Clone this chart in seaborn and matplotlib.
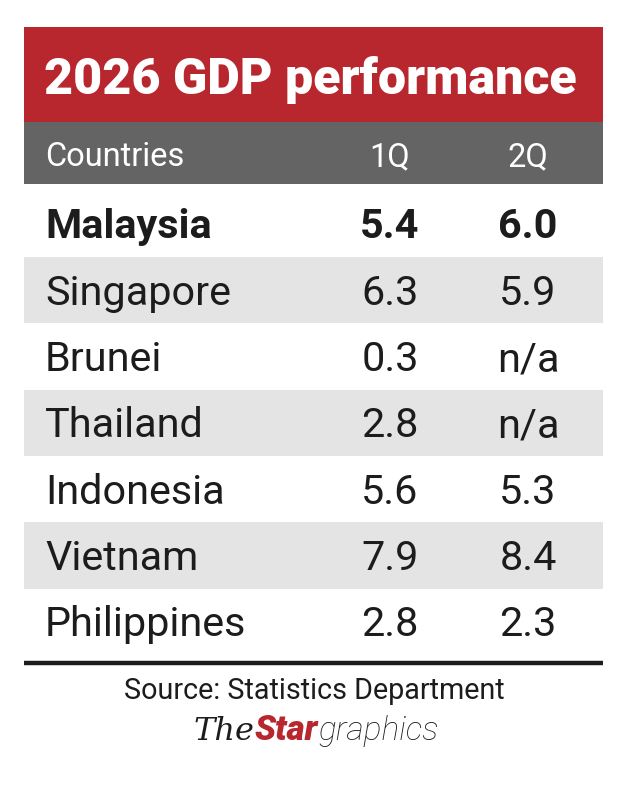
import matplotlib
matplotlib.use("Agg")
import matplotlib.pyplot as plt
import matplotlib.transforms as mtransforms
from matplotlib.colors import ListedColormap
import numpy as np
import seaborn as sns

# table data
title = "2026 GDP performance"
col_labels = ["Countries", "1Q", "2Q"]
countries = ["Malaysia", "Singapore", "Brunei", "Thailand", "Indonesia", "Vietnam", "Philippines"]
q1 = [5.4, 6.3, 0.3, 2.8, 5.6, 7.9, 2.8]
q2 = [6.0, 5.9, None, None, 5.3, 8.4, 2.3]
highlight = "Malaysia"
source = "Source: Statistics Department"

RED = "#b8262e"
HEAD_GRAY = "#646464"
STRIPE = "#e4e4e4"
INK = "#1c1c1c"

sns.set_theme(style="white")
plt.rcParams["font.family"] = ["Roboto", "DejaVu Sans"]

W, H = 632, 785
fig = plt.figure(figsize=(W / 100, H / 100), dpi=100)
fig.patch.set_facecolor("white")

# base axes in pixel units
ax = fig.add_axes([0, 0, 1, 1])
ax.set_xlim(0, W)
ax.set_ylim(H, 0)
ax.axis("off")

left, right = 24, 603
col_x = [45, 390, 528]

# title band
ax.add_patch(plt.Rectangle((left, 27), right - left, 95, color=RED, lw=0))
ax.text(col_x[0] - 1, 94, title, color="white", fontsize=36.2, fontweight="black",
        ha="left", va="baseline")

# header band
ax.add_patch(plt.Rectangle((left, 122), right - left, 62, color=HEAD_GRAY, lw=0))
ax.text(col_x[0], 166, col_labels[0], color="white", fontsize=23.5, ha="left", va="baseline")
for x, lab in zip(col_x[1:], col_labels[1:]):
    ax.text(x, 166, lab, color="white", fontsize=23.5, ha="center", va="baseline")

# striped body drawn as a heatmap
n = len(countries)
row_h = 66.3
top = 224 - row_h / 2
ax_tbl = fig.add_axes([left / W, 1 - (top + n * row_h) / H, (right - left) / W, n * row_h / H])
stripes = np.array([[i % 2] for i in range(n)])
sns.heatmap(stripes, ax=ax_tbl, cmap=ListedColormap(["white", STRIPE]), cbar=False,
            xticklabels=False, yticklabels=False, linewidths=0)
ax_tbl.axis("off")

trans = mtransforms.blended_transform_factory(ax.transData, ax_tbl.transData)
base_off = 14.5 / row_h
for i, (c, a, b) in enumerate(zip(countries, q1, q2)):
    w = "bold" if c == highlight else "normal"
    y = i + 0.5 + base_off
    ax_tbl.text(col_x[0], y, c, transform=trans, fontsize=29.8, fontweight=w, color=INK,
                ha="left", va="baseline", clip_on=False)
    for x, v in zip(col_x[1:], [a, b]):
        s = "n/a" if v is None else f"{v:.1f}"
        ax_tbl.text(x, y, s, transform=trans, fontsize=29.8, fontweight=w, color=INK,
                    ha="center", va="baseline", clip_on=False)

# bottom rule
ax.plot([left, right], [663, 663], color=INK, lw=3.2, solid_capstyle="butt")

# source line
ax.text(W / 2 - 2, 699, source, color=INK, fontsize=20.7, ha="center", va="baseline")

# logo: The / Star / graphics
fig.canvas.draw()
r = fig.canvas.get_renderer()
parts = [
    ("The", dict(color=INK, fontsize=23, fontstyle="italic", family=["DejaVu Serif"])),
    ("Star", dict(color=RED, fontsize=25, fontweight="black", fontstyle="italic")),
    ("graphics", dict(color=INK, fontsize=24, fontstyle="italic", fontweight="light")),
]
texts = [ax.text(0, 740, s, ha="left", va="baseline", **kw) for s, kw in parts]
widths = [t.get_window_extent(r).width for t in texts]
x0 = (W - sum(widths)) / 2
for t, wd in zip(texts, widths):
    t.set_x(x0)
    x0 += wd

fig.savefig("out.png", dpi=100, facecolor="white")
